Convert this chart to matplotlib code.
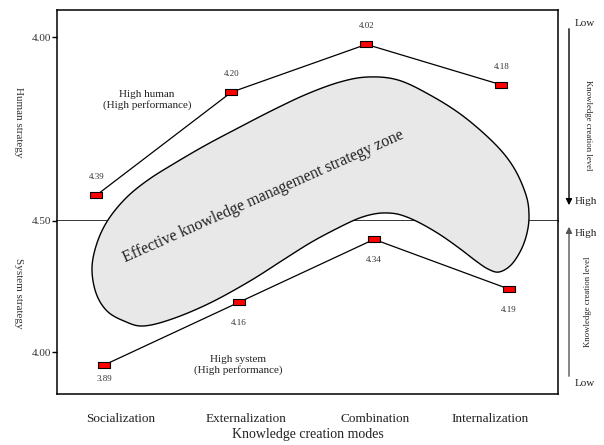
import numpy as np
import matplotlib
matplotlib.use("Agg")
import matplotlib.pyplot as plt
from matplotlib.path import Path

plt.rcParams["font.family"] = ["Liberation Serif", "DejaVu Serif"]

# ── data ────────────────────────────────────────────────────────────────
categories = ["Socialization", "Externalization", "Combination", "Internalization"]
human_values = [4.39, 4.20, 4.02, 4.18]     # printed labels
human_plot = [4.43, 4.15, 4.02, 4.13]       # where the marks sit on the left scale
system_values = [3.89, 4.16, 4.34, 4.19]
system_plot = [3.95, 4.19, 4.43, 4.24]

W, H = 604, 445
fig = plt.figure(figsize=(W / 100, H / 100), dpi=100)


def box(x0, y0, x1, y1):
    # pixel box (top-left origin) -> figure fraction rect
    return [x0 / W, 1 - y1 / H, (x1 - x0) / W, (y1 - y0) / H]


ax_top = fig.add_axes(box(57, 10, 558, 221))
ax_bot = fig.add_axes(box(57, 221, 558, 394), sharex=ax_top)

xlim = (-0.3185, 3.3926)
ax_top.set_xlim(*xlim)
ax_top.set_ylim(4.50, 3.9266)
ax_bot.set_ylim(3.8397, 4.50)

rect = Path([(-1.2, -0.7), (1.2, -0.7), (1.2, 0.7), (-1.2, 0.7), (-1.2, -0.7)],
            [Path.MOVETO, Path.LINETO, Path.LINETO, Path.LINETO, Path.CLOSEPOLY])

x = np.arange(len(categories))
ax_top.plot(x - 0.027, human_plot, color="black", lw=0.9, marker=rect,
            markersize=8.6, markerfacecolor="red", markeredgecolor="black",
            markeredgewidth=0.8, zorder=3)
ax_bot.plot(x + 0.03, system_plot, color="black", lw=0.9, marker=rect,
            markersize=8.6, markerfacecolor="red", markeredgecolor="black",
            markeredgewidth=0.8, zorder=3)

for xi, yp, v in zip(x - 0.027, human_plot, human_values):
    ax_top.annotate(f"{v:.2f}", (xi, yp), xytext=(0, 13), textcoords="offset points",
                    ha="center", va="center", fontsize=6.5, color="#333333")
sys_off = [-10, -15, -15, -15]
for xi, yp, v, off in zip(x + 0.03, system_plot, system_values, sys_off):
    ax_bot.annotate(f"{v:.2f}", (xi, yp), xytext=(0, off), textcoords="offset points",
                    ha="center", va="center", fontsize=6.5, color="#333333")

# axes styling
for ax in (ax_top, ax_bot):
    for s in ax.spines.values():
        s.set_linewidth(1.1)
ax_bot.spines["top"].set_visible(False)

ax_top.set_yticks([4.00, 4.50])
ax_top.set_yticklabels(["4.00", "4.50"])
ax_bot.set_yticks([4.00])
ax_bot.set_yticklabels(["4.00"])
for ax in (ax_top, ax_bot):
    ax.tick_params(axis="y", direction="out", length=3.5, width=1, pad=1,
                   labelsize=8, labelcolor="#333333")
ax_top.tick_params(axis="x", bottom=False, labelbottom=False)
ax_bot.set_xticks([0.15, 1.08, 2.04, 2.89])
ax_bot.set_xticklabels(categories)
ax_bot.tick_params(axis="x", length=0, pad=13.5, labelsize=9.5, labelcolor="#222222")
ax_bot.set_xlabel("Knowledge creation modes", fontsize=10, labelpad=2, color="#222222")

# ── overlay in pixel units for the zone, side notes and arrows ─────────
ov = fig.add_axes([0, 0, 1, 1])
ov.set_xlim(0, W)
ov.set_ylim(H, 0)
ov.axis("off")

zone = np.array([
    (92, 268), (97, 243), (108, 220), (126, 198), (148, 180), (175, 163),
    (206, 145), (240, 127), (273, 110), (307, 94), (340, 82), (368, 77),
    (398, 80), (430, 95), (463, 116), (495, 144), (514, 168), (526, 195),
    (529, 215), (527, 233), (521, 250), (511, 265), (499, 272), (488, 269),
    (476, 261), (459, 248), (439, 234), (418, 222), (401, 215), (388, 213),
    (374, 214), (357, 219), (334, 230), (310, 243), (283, 260), (250, 281),
    (210, 303), (172, 319), (143, 326), (124, 321), (107, 311), (96, 293),
])


def closed_spline(pts, n=20):
    out = []
    m = len(pts)
    t = np.linspace(0, 1, n, endpoint=False)[:, None]
    for i in range(m):
        p0, p1, p2, p3 = pts[i - 1], pts[i], pts[(i + 1) % m], pts[(i + 2) % m]
        seg = 0.5 * ((2 * p1) + (-p0 + p2) * t + (2 * p0 - 5 * p1 + 4 * p2 - p3) * t ** 2
                     + (-p0 + 3 * p1 - 3 * p2 + p3) * t ** 3)
        out.append(seg)
    return np.vstack(out)


curve = closed_spline(zone.astype(float))
ov.fill(curve[:, 0], curve[:, 1], facecolor="#e8e8e8", edgecolor="black", lw=1.0, zorder=2)
ov.text(263, 197, "Effective knowledge management strategy zone", rotation=24,
        rotation_mode="anchor", ha="center", va="center", fontsize=11.5, color="#222222",
        zorder=4)

ov.text(147, 100, "High human\n(High performance)", ha="center", va="center",
        fontsize=8, color="#222222", linespacing=1.15)
ov.text(238, 365, "High system\n(High performance)", ha="center", va="center",
        fontsize=8, color="#222222", linespacing=1.15)

ov.text(18, 122, "Human strategy", rotation=270, ha="center", va="center",
        fontsize=8, color="#333333")
ov.text(18, 293, "System strategy", rotation=270, ha="center", va="center",
        fontsize=8, color="#333333")

# right side: knowledge creation level arrows
ov.annotate("", xy=(569, 208), xytext=(569, 26),
            arrowprops=dict(arrowstyle="-|>", color="black", lw=1, mutation_scale=9))
ov.annotate("", xy=(569, 224), xytext=(569, 379),
            arrowprops=dict(arrowstyle="-|>", color="#555555", lw=1, mutation_scale=9))
ov.text(575, 24, "Low", ha="left", va="center", fontsize=8, color="#222222")
ov.text(575, 202, "High", ha="left", va="center", fontsize=8, color="#222222")
ov.text(575, 233, "High", ha="left", va="center", fontsize=8, color="#222222")
ov.text(575, 383, "Low", ha="left", va="center", fontsize=8, color="#222222")
ov.text(588, 125, "Knowledge creation level", rotation=270, ha="center", va="center",
        fontsize=6.3, color="#222222")
ov.text(588, 302, "Knowledge creation level", rotation=90, ha="center", va="center",
        fontsize=6.3, color="#222222")

fig.savefig("out.png", dpi=100)
